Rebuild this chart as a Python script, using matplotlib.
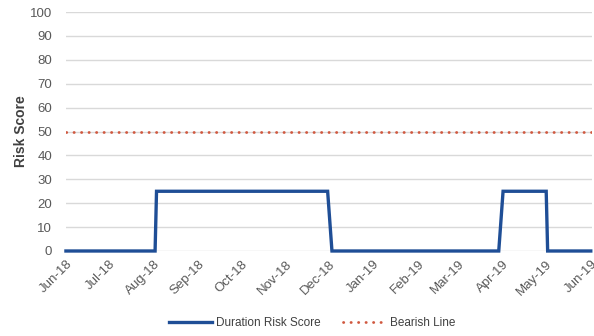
import matplotlib
matplotlib.use("Agg")
import matplotlib.pyplot as plt
import matplotlib.dates as mdates
import pandas as pd

plt.rcParams['font.family'] = ['Liberation Sans', 'DejaVu Sans']

# score turning points (step series)
score_dates = ['2018-06-01', '2018-08-02', '2018-08-03', '2018-11-30', '2018-12-03',
               '2019-03-29', '2019-04-01', '2019-05-01', '2019-05-02', '2019-06-01']
score_values = [0, 0, 25, 25, 0, 0, 25, 25, 0, 0]
bearish_level = 50
y_ticks = [0, 10, 20, 30, 40, 50, 60, 70, 80, 90, 100]

dates = pd.to_datetime(score_dates)
start, end = pd.Timestamp('2018-06-01'), pd.Timestamp('2019-06-02')

fig = plt.figure(figsize=(5.94, 3.36), dpi=100)
ax = fig.add_axes([0.111, 0.253, 0.886, 0.711])

ax.plot(dates, score_values, color='#1f4e96', lw=2.4, solid_joinstyle='miter',
        clip_on=False, zorder=3, label='Duration Risk Score')
ax.plot([start, end], [bearish_level, bearish_level], color='#d0583f', lw=2.0,
        linestyle=(0, (0.1, 2.6)), dash_capstyle='round', zorder=3,
        label='Bearish Line')

ax.set_ylim(0, 100)
ax.set_xlim(start, end)
ax.set_yticks(y_ticks)
ax.yaxis.grid(True, color='#d9d9d9', lw=1)
ax.set_axisbelow(True)
for s in ax.spines.values():
    s.set_visible(False)

ax.xaxis.set_major_locator(mdates.MonthLocator())
ax.xaxis.set_major_formatter(mdates.DateFormatter('%b-%y'))
ax.tick_params(length=0, labelsize=9.5, colors='#595959')
ax.tick_params(axis='y', pad=10)
ax.tick_params(axis='x', pad=5)
for lbl in ax.get_xticklabels():
    lbl.set_rotation(45)
    lbl.set_ha('right')
    lbl.set_rotation_mode('anchor')

ax.set_ylabel('Risk Score', fontsize=10, fontweight='bold', color='#404040', labelpad=1)

ax.legend(loc='center', bbox_to_anchor=(0.468, -0.30), ncol=2, frameon=False,
          fontsize=8.5, labelcolor='#404040', handlelength=3.6, columnspacing=1.9,
          handletextpad=0.35)

fig.savefig('out.png', dpi=100)
